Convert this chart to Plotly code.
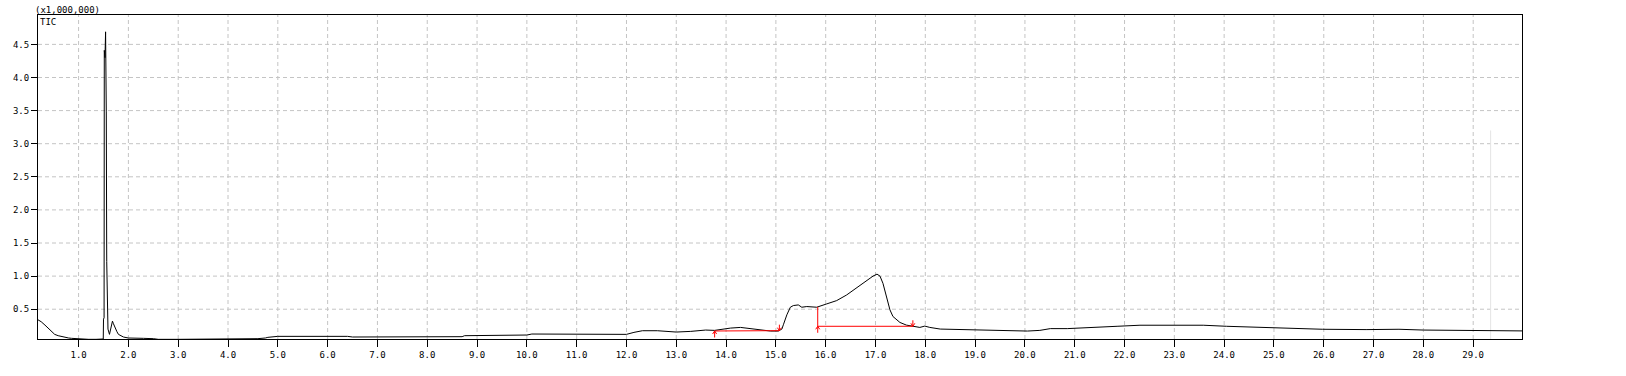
import numpy as np
import plotly.graph_objects as go

# ---- data ----
time_min = [
    0.185, 0.25, 0.325, 0.40, 0.46, 0.52, 0.59, 0.66, 0.73, 0.80, 0.86, 0.95, 1.05, 1.20, 1.35, 1.45, 1.495,
    1.50, 1.512, 1.516, 1.530, 1.542, 1.556, 1.565, 1.575, 1.59, 1.62, 1.64, 1.66, 1.68, 1.70, 1.74, 1.77,
    1.80, 1.85, 1.90, 2.0, 2.1, 2.3, 2.5, 2.6, 3.0, 3.5, 4.0, 4.3, 4.5, 4.6, 4.75, 4.8, 5.0, 5.3, 5.35, 5.5,
    6.4, 6.5, 6.6, 7.0, 7.5, 8.0, 8.5, 8.7, 8.75, 9.5, 10.0, 10.1, 10.5, 11.0, 11.3, 11.7, 12.0, 12.15,
    12.32, 12.62, 13.0, 13.29, 13.59, 13.77, 14.09, 14.29, 14.49, 14.69, 14.89, 15.05, 15.12, 15.15,
    15.22, 15.29, 15.35, 15.45, 15.52, 15.62, 15.82, 16.02, 16.22, 16.42, 16.62, 16.82, 16.95, 17.03,
    17.09, 17.15, 17.22, 17.29, 17.35, 17.49, 17.62, 17.75, 17.89, 17.99, 18.09, 18.3, 18.5, 19.0, 19.5,
    19.8, 20.05, 20.3, 20.51, 20.85, 21.18, 21.51, 21.85, 22.31, 22.98, 23.58, 24.05, 24.58, 24.98,
    25.51, 25.98, 26.85, 27.51, 28.0, 28.5, 29.0, 29.33, 29.36, 29.7, 29.98,
]
tic_signal = [
    0.34, 0.31, 0.26, 0.20, 0.16, 0.12, 0.10, 0.085, 0.07, 0.065, 0.06, 0.055, 0.05, 0.045, 0.045, 0.045, 0.05,
    0.35, 0.37, 4.41, 4.30, 4.69, 3.48, 1.22, 0.60, 0.20, 0.12, 0.18, 0.28, 0.32, 0.28, 0.20, 0.16,
    0.12, 0.10, 0.08, 0.065, 0.06, 0.06, 0.055, 0.045, 0.045, 0.045, 0.045, 0.048, 0.05, 0.055, 0.065, 0.075, 0.09, 0.09, 0.095, 0.09,
    0.09, 0.08, 0.08, 0.08, 0.08, 0.08, 0.082, 0.085, 0.10, 0.10, 0.11, 0.125, 0.125, 0.125, 0.125, 0.115, 0.12, 0.15,
    0.175, 0.175, 0.155, 0.165, 0.185, 0.18, 0.215, 0.225, 0.21, 0.185, 0.17, 0.17, 0.20, 0.265,
    0.415, 0.53, 0.555, 0.565, 0.53, 0.54, 0.53, 0.58, 0.63, 0.715, 0.825, 0.93, 1.0, 1.03,
    1.0, 0.89, 0.69, 0.49, 0.39, 0.30, 0.26, 0.24, 0.225, 0.245, 0.225, 0.20, 0.197, 0.19, 0.187,
    0.18, 0.17, 0.18, 0.207, 0.207, 0.217, 0.222, 0.242, 0.258, 0.263, 0.258, 0.242, 0.232, 0.217,
    0.207, 0.197, 0.192, 0.197, 0.185, 0.182, 0.18, 0.18, 0.172, 0.175, 0.172,
]

# integration marks (peak start/end times and baseline levels)
peak_start_t = [13.77, 15.84]
peak_end_t = [15.07, 17.75]
peak_base_start = [0.171, 0.242]
peak_base_end = [0.176, 0.242]

x_tick_vals = list(range(1, 30))
x_tick_text = [f"{v:.1f}" for v in x_tick_vals]
y_tick_vals = [0.5, 1.0, 1.5, 2.0, 2.5, 3.0, 3.5, 4.0, 4.5]
y_tick_text = [f"{v:.1f}" for v in y_tick_vals]
x_minor_step = 0.2
y_minor_step = 0.1

x_range = [0.185, 29.98]
y_range = [0.05, 4.944]
faint_marker_t = 29.35
faint_marker_top = 3.2

# ---- layout geometry ----
W, H = 1626, 376
ML, MR, MT, MB = 38, 104, 15, 37
pw, ph = W - ML - MR, H - MT - MB
dx = (x_range[1] - x_range[0]) / pw
dy = (y_range[1] - y_range[0]) / ph

fig = go.Figure()

fig.add_trace(go.Scatter(
    x=time_min, y=tic_signal, mode="lines",
    line=dict(color="black", width=1), hoverinfo="skip", showlegend=False,
))

# red integration baselines and arrows
rx, ry = [], []
sig_t = np.array(time_min)
sig_v = np.array(tic_signal)
for i, (ts, te, bs, be) in enumerate(zip(peak_start_t, peak_end_t, peak_base_start, peak_base_end)):
    rx += [ts, te, None]
    ry += [bs, be, None]
    top = float(np.interp(ts, sig_t, sig_v)) if i == 1 else bs
    rx += [ts, ts, None]
    ry += [top, bs - 6.5 * dy, None]
    rx += [ts - 2 * dx, ts, ts + 2 * dx, None]
    ry += [bs - 3 * dy, bs, bs - 3 * dy, None]
    rx += [te, te, None]
    ry += [be + 6 * dy, be, None]
    rx += [te - 2 * dx, te, te + 2 * dx, None]
    ry += [be + 3 * dy, be, be + 3 * dy, None]

fig.add_trace(go.Scatter(
    x=rx, y=ry, mode="lines", line=dict(color="#ff0000", width=1),
    hoverinfo="skip", showlegend=False,
))

# dashed grid drawn from the tick arrays
grid_line = dict(color="#c4c4c4", width=1, dash="4px,3px")
for xv in x_tick_vals:
    fig.add_shape(type="line", xref="x", yref="paper", x0=xv, x1=xv, y0=0, y1=1,
                  line=grid_line, layer="below")
for yv in y_tick_vals:
    fig.add_shape(type="line", xref="paper", yref="y", x0=0, x1=1, y0=yv, y1=yv,
                  line=grid_line, layer="below")

fig.add_shape(type="line", x0=faint_marker_t, x1=faint_marker_t, y0=y_range[0], y1=faint_marker_top,
              line=dict(color="#e4e4e4", width=1), layer="below")

tick_font = dict(family="DejaVu Sans Mono", size=9, color="black")

fig.update_layout(
    xaxis=dict(
        range=x_range, tickmode="array", tickvals=x_tick_vals, ticktext=x_tick_text,
        ticks="outside", ticklen=7, tickwidth=1, tickcolor="black",
        showline=True, linecolor="black", linewidth=1, mirror=True,
        zeroline=False, tickfont=tick_font, showgrid=False,
    ),
    yaxis=dict(
        range=y_range, tickmode="array", tickvals=y_tick_vals, ticktext=y_tick_text,
        ticks="outside", ticklen=6, tickwidth=1, tickcolor="black",
        showline=True, linecolor="black", linewidth=1, mirror=True,
        zeroline=False, tickfont=tick_font, showgrid=False,
    ),
    # overlay axes used only for the short minor ticks
    xaxis2=dict(
        overlaying="x", anchor="y", side="bottom", range=x_range,
        tickmode="linear", tick0=0, dtick=x_minor_step, ticks="outside", ticklen=3,
        tickwidth=1, tickcolor="black", showticklabels=False, showgrid=False,
        zeroline=False, showline=False,
    ),
    yaxis2=dict(
        overlaying="y", anchor="x", side="left", range=y_range,
        tickmode="linear", tick0=0, dtick=y_minor_step, ticks="outside", ticklen=3,
        tickwidth=1, tickcolor="black", showticklabels=False, showgrid=False,
        zeroline=False, showline=False,
    ),
    width=W, height=H, margin=dict(l=ML, r=MR, t=MT, b=MB, pad=0),
    paper_bgcolor="white", plot_bgcolor="white", showlegend=False,
)

fig.add_annotation(text="(x1,000,000)", xref="paper", yref="paper",
                   x=(33 - ML) / pw, y=(H - MB - 10) / ph, xanchor="left", yanchor="middle",
                   showarrow=False, font=dict(family="DejaVu Sans Mono", size=9, color="black"))
fig.add_annotation(text="TIC", xref="paper", yref="paper",
                   x=0, y=(H - MB - 22) / ph, xanchor="left", yanchor="middle",
                   showarrow=False, font=dict(family="DejaVu Sans Mono", size=9, color="black"))

fig.write_html("out.html")
